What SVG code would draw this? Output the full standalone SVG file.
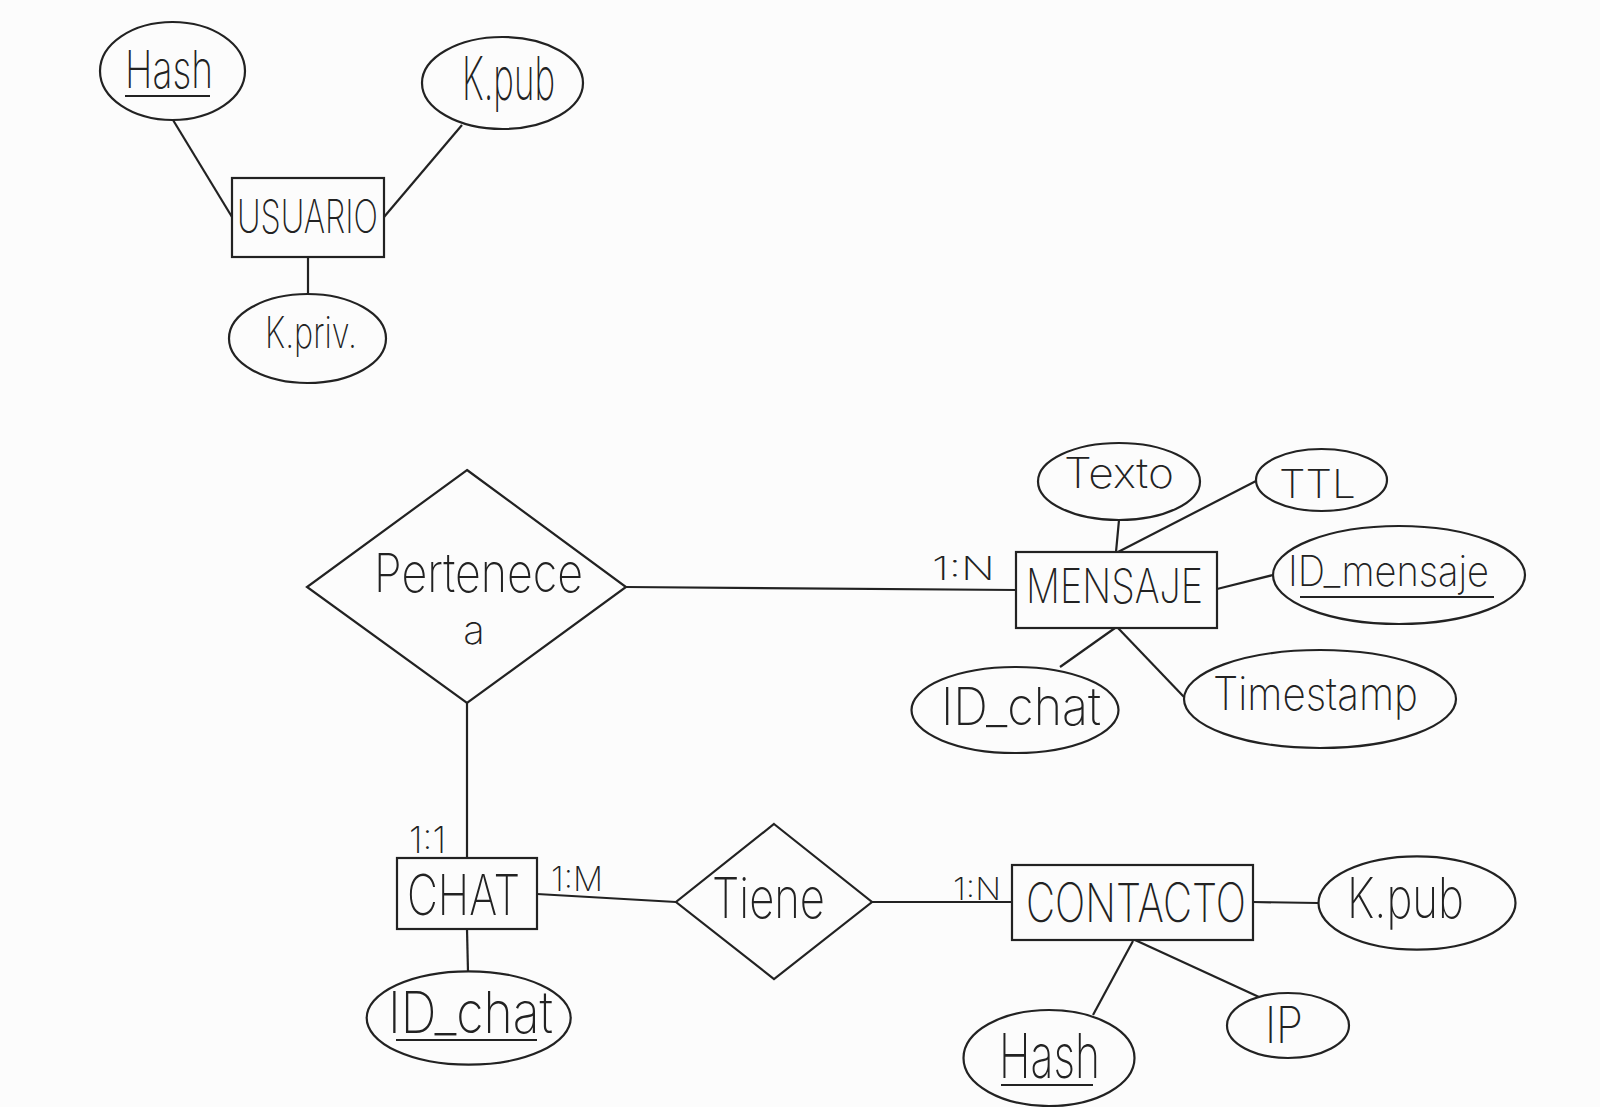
<svg xmlns="http://www.w3.org/2000/svg" width="1600" height="1107" viewBox="0 0 1600 1107">
<style>
.s{fill:none;stroke:#222;stroke-width:2.2}
.t{font-family:Inter,Roboto,"Liberation Sans",sans-serif;font-weight:200;fill:#222}
.u{stroke:#222;stroke-width:2.2}
</style>
<rect x="0" y="0" width="1600" height="1107" fill="#fcfcfc"/>
<g id="connectors" class="s">
<line x1="173" y1="120" x2="232" y2="217"/>
<line x1="462" y1="125" x2="384" y2="217"/>
<line x1="308" y1="257" x2="308" y2="294"/>
<line x1="626" y1="587" x2="1017" y2="590"/>
<line x1="1119" y1="520" x2="1116" y2="552"/>
<line x1="1256" y1="481" x2="1118" y2="552"/>
<line x1="1217" y1="589" x2="1273" y2="575"/>
<line x1="1115" y1="628" x2="1060" y2="667"/>
<line x1="1118" y1="628" x2="1184" y2="697"/>
<line x1="467" y1="703" x2="467" y2="858"/>
<line x1="537" y1="894" x2="676" y2="902"/>
<line x1="467" y1="929" x2="468" y2="972"/>
<line x1="872" y1="902" x2="1012" y2="902"/>
<line x1="1253" y1="902" x2="1318" y2="903"/>
<line x1="1133" y1="941" x2="1093" y2="1015"/>
<line x1="1135" y1="940" x2="1259" y2="997"/>
</g>
<g id="usuario"><rect class="s" x="232" y="178" width="152" height="79"/><text class="t" x="237" y="233" font-size="46" textLength="141" lengthAdjust="spacingAndGlyphs">USUARIO</text></g>
<g id="usuario-hash"><ellipse class="s" cx="172.5" cy="71" rx="72.5" ry="49"/><text class="t" x="125" y="88" font-size="52" textLength="88" lengthAdjust="spacingAndGlyphs">Hash</text><line class="u" x1="125" y1="96" x2="210" y2="96"/></g>
<g id="usuario-kpub"><ellipse class="s" cx="502.5" cy="83" rx="80.5" ry="46"/><text class="t" x="462" y="100" font-size="60" textLength="93" lengthAdjust="spacingAndGlyphs">K.pub</text></g>
<g id="usuario-kpriv"><ellipse class="s" cx="307.5" cy="338.5" rx="78.5" ry="44.5"/><text class="t" x="265" y="348" font-size="43" textLength="92" lengthAdjust="spacingAndGlyphs">K.priv.</text></g>
<g id="pertenece"><polygon class="s" points="467,470 626,587 467,703 307,587"/><text class="t" x="374" y="592" font-size="54" textLength="209" lengthAdjust="spacingAndGlyphs">Pertenece</text><text class="t" x="474" y="644" font-size="40" text-anchor="middle">a</text></g>
<g id="mensaje"><rect class="s" x="1016" y="552" width="201" height="76"/><text class="t" x="1026" y="603" font-size="48" textLength="177" lengthAdjust="spacingAndGlyphs">MENSAJE</text><text class="t" x="932" y="580" font-size="32" textLength="63" lengthAdjust="spacingAndGlyphs">1:N</text></g>
<g id="mensaje-texto"><ellipse class="s" cx="1119" cy="481.5" rx="81" ry="38.5"/><text class="t" x="1064" y="488" font-size="42" textLength="110" lengthAdjust="spacingAndGlyphs">Texto</text></g>
<g id="mensaje-ttl"><ellipse class="s" cx="1321.5" cy="480" rx="65.5" ry="31"/><text class="t" x="1279" y="498" font-size="39" textLength="77" lengthAdjust="spacingAndGlyphs">TTL</text></g>
<g id="mensaje-id"><ellipse class="s" cx="1399" cy="575" rx="126" ry="49"/><text class="t" x="1288" y="586" font-size="42" textLength="201" lengthAdjust="spacingAndGlyphs">ID_mensaje</text><line class="u" x1="1300" y1="597" x2="1494" y2="597"/></g>
<g id="mensaje-idchat"><ellipse class="s" cx="1015" cy="710" rx="103.5" ry="43"/><text class="t" x="941" y="725" font-size="52" textLength="160" lengthAdjust="spacingAndGlyphs">ID_chat</text></g>
<g id="mensaje-timestamp"><ellipse class="s" cx="1320" cy="699" rx="136" ry="49"/><text class="t" x="1213" y="710" font-size="46" textLength="205" lengthAdjust="spacingAndGlyphs">Timestamp</text></g>
<g id="chat"><rect class="s" x="397" y="858" width="140" height="71"/><text class="t" x="407" y="915" font-size="56" textLength="113" lengthAdjust="spacingAndGlyphs">CHAT</text><text class="t" x="409" y="853" font-size="36" textLength="37" lengthAdjust="spacingAndGlyphs">1:1</text><text class="t" x="551" y="891" font-size="34" textLength="52" lengthAdjust="spacingAndGlyphs">1:M</text></g>
<g id="chat-id"><ellipse class="s" cx="468.7" cy="1018" rx="102" ry="46.7"/><text class="t" x="388" y="1033" font-size="58" textLength="165" lengthAdjust="spacingAndGlyphs">ID_chat</text><line class="u" x1="396" y1="1040" x2="537" y2="1040"/></g>
<g id="tiene"><polygon class="s" points="774,824 872,902 774,979 676,902"/><text class="t" x="712" y="918" font-size="56" textLength="113" lengthAdjust="spacingAndGlyphs">Tiene</text></g>
<g id="contacto"><rect class="s" x="1012" y="865" width="241" height="75"/><text class="t" x="1026" y="922" font-size="54" textLength="220" lengthAdjust="spacingAndGlyphs">CONTACTO</text><text class="t" x="953" y="900" font-size="31" textLength="48" lengthAdjust="spacingAndGlyphs">1:N</text></g>
<g id="contacto-kpub"><ellipse class="s" cx="1417" cy="903" rx="98.5" ry="46.7"/><text class="t" x="1347" y="918" font-size="56" textLength="117" lengthAdjust="spacingAndGlyphs">K.pub</text></g>
<g id="contacto-hash"><ellipse class="s" cx="1049" cy="1058" rx="85.5" ry="48"/><text class="t" x="999" y="1078" font-size="62" textLength="101" lengthAdjust="spacingAndGlyphs">Hash</text><line class="u" x1="1001" y1="1085" x2="1093" y2="1085"/></g>
<g id="contacto-ip"><ellipse class="s" cx="1288" cy="1025.5" rx="61" ry="32.5"/><text class="t" x="1265" y="1043" font-size="50" textLength="38" lengthAdjust="spacingAndGlyphs">IP</text></g>
</svg>
